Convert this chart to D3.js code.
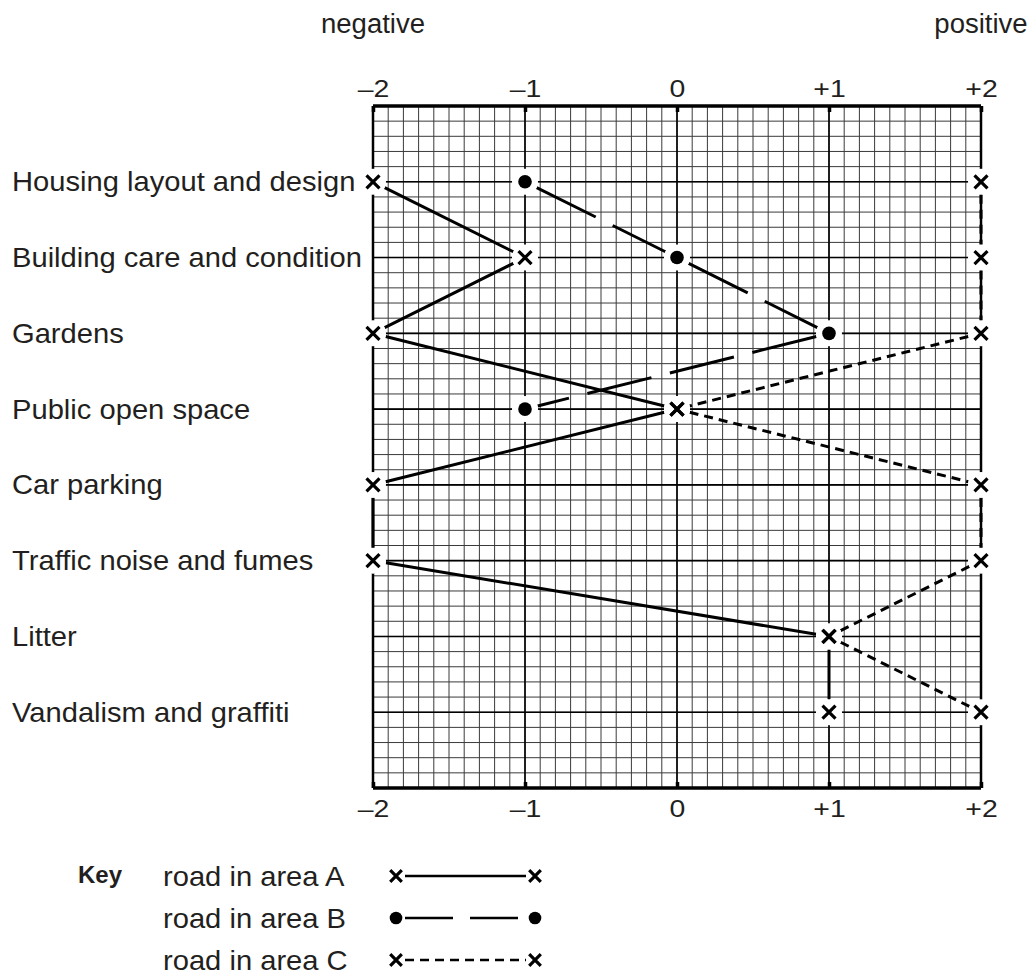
<!DOCTYPE html>
<html lang="en">
  <head>
    <meta charset="utf-8" />
    <title>Residents' environmental ratings</title>
    <script src="https://cdn.jsdelivr.net/npm/d3@7"></script>
    <style>
      body {
        margin: 0;
        background: #fff;
      }

      text {
        font-family: "Liberation Sans", Arial, Helvetica, sans-serif;
        fill: #231f20;
      }
    </style>
  </head>

  <body>
    <svg id="chart"></svg>

    <script>
      const categories = [
        "Housing layout and design",
        "Building care and condition",
        "Gardens",
        "Public open space",
        "Car parking",
        "Traffic noise and fumes",
        "Litter",
        "Vandalism and graffiti"
      ];
      const areaA = [-2, -1, -2, 0, -2, -2, 1, 1];
      const areaB = [-1, 0, 1, -1];
      const areaC = [2, 2, 2, 0, 2, 2, 1, 2];
      const tickValues = [-2, -1, 0, 1, 2];
      const tickLabels = ["\u20132", "\u20131", "0", "+1", "+2"];
      const keyLabels = ["road in area A", "road in area B", "road in area C"];

      const width = 1033;
      const height = 978;

      const svg = d3
        .select("#chart")
        .attr("width", width)
        .attr("height", height);

      // scales: x is the rating, y is the row index (rows sit at 1..8)
      const x = d3.scaleLinear().domain([-2, 2]).range([373, 981]);
      const y = d3.scaleLinear().domain([0, 9]).range([106, 788]);

      const rowY = i => y(i + 1);

      // the source lettering is a bit wide, so text gets a small x stretch
      function label(g, tx, ty, str, size, sx, anchor) {
        return g
          .append("text")
          .attr("transform", `translate(${tx},${ty}) scale(${sx},1)`)
          .attr("text-anchor", anchor || "start")
          .attr("font-size", size)
          .text(str);
      }

      // grid
      const grid = svg.append("g");
      const minorX = d3.range(-2, 2.0001, 0.1);
      const minorY = d3.range(0, 9.0001, 0.2);

      grid
        .selectAll("line.vx")
        .data(minorX)
        .join("line")
        .attr("x1", d => x(d))
        .attr("x2", d => x(d))
        .attr("y1", y(0))
        .attr("y2", y(9))
        .attr("stroke", "#3a3a3a")
        .attr("stroke-width", 1);

      grid
        .selectAll("line.hy")
        .data(minorY)
        .join("line")
        .attr("x1", x(-2))
        .attr("x2", x(2))
        .attr("y1", d => y(d))
        .attr("y2", d => y(d))
        .attr("stroke", "#3a3a3a")
        .attr("stroke-width", 1);

      // heavier lines on the whole units and on the rows
      grid
        .selectAll("line.major-x")
        .data(tickValues)
        .join("line")
        .attr("x1", d => x(d))
        .attr("x2", d => x(d))
        .attr("y1", y(0))
        .attr("y2", y(9))
        .attr("stroke", "#000")
        .attr("stroke-width", d => (Math.abs(d) === 2 ? 2.5 : 1.6));

      grid
        .selectAll("line.major-y")
        .data(categories)
        .join("line")
        .attr("x1", x(-2))
        .attr("x2", x(2))
        .attr("y1", (d, i) => rowY(i))
        .attr("y2", (d, i) => rowY(i))
        .attr("stroke", "#000")
        .attr("stroke-width", 1.6);

      // top and bottom axes
      const topAxis = d3
        .axisTop(x)
        .tickValues(tickValues)
        .tickFormat((d, i) => tickLabels[i])
        .tickSize(-6)
        .tickPadding(9);
      const bottomAxis = d3
        .axisBottom(x)
        .tickValues(tickValues)
        .tickFormat((d, i) => tickLabels[i])
        .tickSize(-6)
        .tickPadding(12);

      [
        [topAxis, y(0)],
        [bottomAxis, y(9)]
      ].forEach(([axis, pos]) => {
        const g = svg
          .append("g")
          .attr("transform", `translate(0,${pos})`)
          .call(axis);
        g.select(".domain").attr("stroke", "#000").attr("stroke-width", 3.5).attr("d", `M${x(-2)},0H${x(2)}`);
        g.selectAll(".tick line").attr("stroke", "#000").attr("stroke-width", 3.5);
        g.selectAll(".tick text")
          .attr("font-size", 24.5)
          .attr("transform", "scale(1.16,1)")
          .attr("font-family", "Liberation Sans, Arial, sans-serif")
          .attr("fill", "#231f20");
      });

      label(svg, x(-2), 33, "negative", 27, 1.02, "middle");
      label(svg, x(2), 33, "positive", 27, 1.02, "middle");

      // row labels
      const rows = svg.append("g");
      categories.forEach((d, i) => label(rows, 12, rowY(i) + 9.5, d, 27.5, 1.06));

      // series
      const series = [
        { name: "A", values: areaA, dash: null, marker: "cross" },
        { name: "B", values: areaB, dash: "66,19", marker: "dot" },
        { name: "C", values: areaC, dash: "9,6", marker: "cross" }
      ];
      const gap = 13;

      function trimmed(p, q) {
        const dx = q[0] - p[0];
        const dy = q[1] - p[1];
        const len = Math.hypot(dx, dy);
        const ux = dx / len;
        const uy = dy / len;
        return [p[0] + ux * gap, p[1] + uy * gap, q[0] - ux * gap, q[1] - uy * gap];
      }

      const lines = svg.append("g");
      series.forEach(s => {
        const pts = s.values.map((v, i) => [x(v), rowY(i)]);
        const segs = d3.pairs(pts).map(([p, q]) => trimmed(p, q));
        lines
          .selectAll(`line.s${s.name}`)
          .data(segs)
          .join("line")
          .attr("class", `s${s.name}`)
          .attr("x1", d => d[0])
          .attr("y1", d => d[1])
          .attr("x2", d => d[2])
          .attr("y2", d => d[3])
          .attr("stroke", "#000")
          .attr("stroke-width", 3)
          .attr("stroke-dasharray", s.dash);
      });

      // white halos cut the grid round each point
      const points = series.flatMap(s => s.values.map((v, i) => ({ x: x(v), y: rowY(i), marker: s.marker })));
      svg
        .append("g")
        .selectAll("circle")
        .data(points)
        .join("circle")
        .attr("cx", d => d.x)
        .attr("cy", d => d.y)
        .attr("r", gap)
        .attr("fill", "#fff");

      function drawMarker(g, type, cx, cy, size) {
        if (type === "dot") {
          g.append("circle").attr("cx", cx).attr("cy", cy).attr("r", size).attr("fill", "#000");
        } else {
          g.append("path")
            .attr("d", `M${cx - size},${cy - size}L${cx + size},${cy + size}M${cx - size},${cy + size}L${cx + size},${cy - size}`)
            .attr("stroke", "#000")
            .attr("stroke-width", 3.2);
        }
      }

      const markers = svg.append("g");
      points.forEach(d => drawMarker(markers, d.marker, d.x, d.y, d.marker === "dot" ? 6.8 : 6.5));

      // key
      const key = svg.append("g");
      label(key, 78, 883, "Key", 24, 1.0).attr("font-weight", "bold");

      const keyDash = [null, "48,17", "9,6"];
      keyLabels.forEach((text, i) => {
        const cy = 876 + i * 42;
        label(key, 163, cy + 9.5, text, 27.5, 1.06);
        key
          .append("line")
          .attr("x1", 405)
          .attr("x2", 526)
          .attr("y1", cy)
          .attr("y2", cy)
          .attr("stroke", "#000")
          .attr("stroke-width", 2.6)
          .attr("stroke-dasharray", keyDash[i]);
        const type = i === 1 ? "dot" : "cross";
        drawMarker(key, type, 396, cy, type === "dot" ? 6.3 : 5.8);
        drawMarker(key, type, 535, cy, type === "dot" ? 6.3 : 5.8);
      });
    </script>
  </body>
</html>
